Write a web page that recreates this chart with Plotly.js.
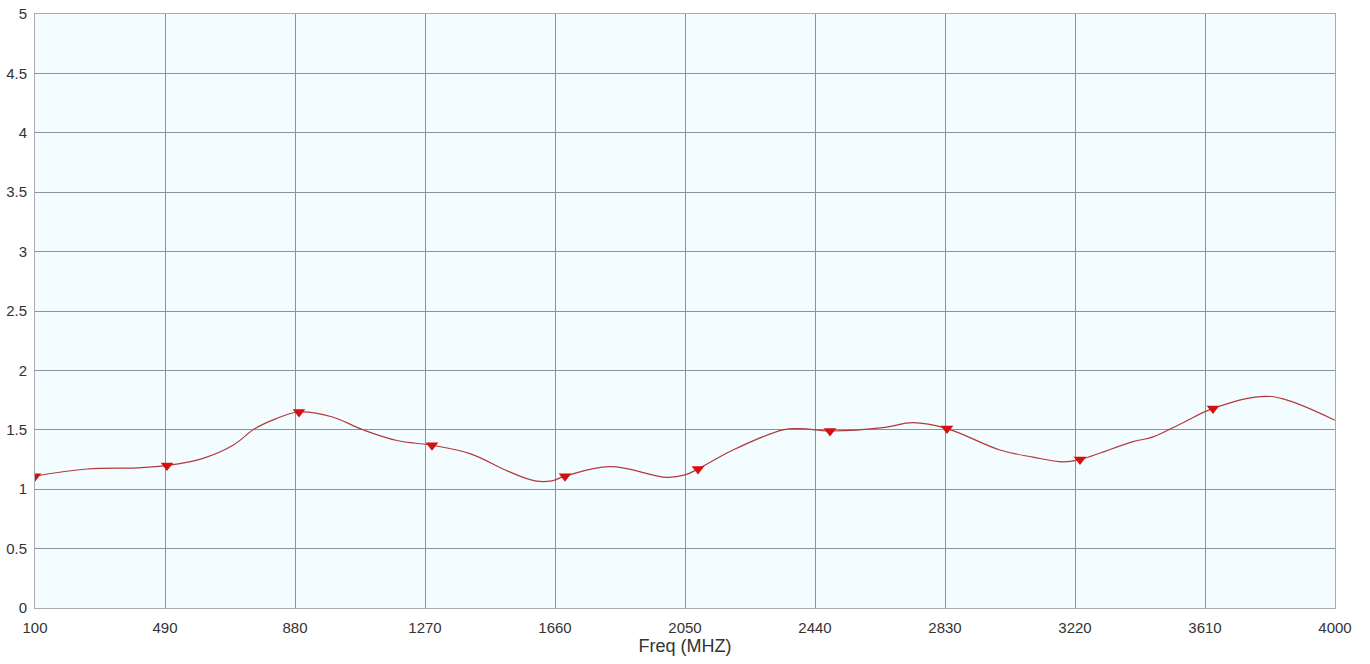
<!DOCTYPE html>
<html>
<head>
<meta charset="utf-8">
<script src="https://cdn.plot.ly/plotly-3.0.1.min.js"></script>
<style>html,body{margin:0;padding:0;background:#fff;}#chart{width:1370px;height:664px;}</style>
</head>
<body>
<div id="chart"></div>
<script>
// Curve samples
const freq = [100, 256, 406, 496, 604, 694, 760, 820, 892, 990, 1084, 1186, 1291, 1405, 1520, 1600, 1650, 1690, 1825, 1996, 2050, 2089, 2194, 2344, 2395, 2485, 2650, 2734, 2836, 2995, 3094, 3184, 3235, 3394, 3454, 3544, 3634, 3775, 3844, 4000];
const vswr = [1.11, 1.17, 1.18, 1.20, 1.26, 1.37, 1.51, 1.59, 1.65, 1.61, 1.50, 1.41, 1.37, 1.30, 1.15, 1.07, 1.07, 1.11, 1.19, 1.10, 1.12, 1.17, 1.33, 1.50, 1.51, 1.49, 1.52, 1.56, 1.51, 1.33, 1.27, 1.23, 1.25, 1.40, 1.44, 1.56, 1.68, 1.78, 1.76, 1.58];
// Marker points
const markerFreq = [100, 496, 892, 1291, 1690, 2089, 2485, 2836, 3235, 3634];
const markerVal = [1.11, 1.20, 1.65, 1.37, 1.11, 1.17, 1.49, 1.51, 1.25, 1.68];
// Tick labels
const xTicks = [100, 490, 880, 1270, 1660, 2050, 2440, 2830, 3220, 3610, 4000];
const yTicks = [0, 0.5, 1, 1.5, 2, 2.5, 3, 3.5, 4, 4.5, 5];

const traces = [
  {x: freq, y: vswr, mode: 'lines', type: 'scatter',
   line: {color: '#b23a3a', width: 1.2, shape: 'spline', smoothing: 1.1},
   cliponaxis: true},
  {x: markerFreq, y: markerVal, mode: 'markers', type: 'scatter',
   marker: {symbol: 'triangle-down', color: '#d40f0f', size: 11},
   cliponaxis: true}
];

const layout = {
  width: 1370, height: 664,
  margin: {l: 35, r: 35, t: 14, b: 56},
  paper_bgcolor: '#ffffff',
  plot_bgcolor: '#f3fcfe',
  showlegend: false,
  font: {family: 'Arial, "Liberation Sans", sans-serif', color: '#333'},
  xaxis: {
    range: [100, 4000], tickvals: xTicks, ticktext: xTicks.map(String),
    showgrid: true, gridcolor: '#86949b', gridwidth: 1,
    zeroline: false, showline: true, linecolor: '#a8acae', mirror: true,
    ticks: '', ticklabelstandoff: 6,
    tickfont: {size: 15, color: '#333'},
    title: {text: 'Freq (MHZ)', font: {size: 18, color: '#333'}, standoff: 3}
  },
  yaxis: {
    range: [0, 5], tickvals: yTicks, ticktext: yTicks.map(String),
    showgrid: true, gridcolor: '#86949b', gridwidth: 1,
    zeroline: false, showline: true, linecolor: '#a8acae', mirror: true,
    ticks: '', ticklabelstandoff: 4,
    tickfont: {size: 15, color: '#333'}
  }
};

Plotly.newPlot('chart', traces, layout, {displayModeBar: false, staticPlot: true});
</script>
</body>
</html>
